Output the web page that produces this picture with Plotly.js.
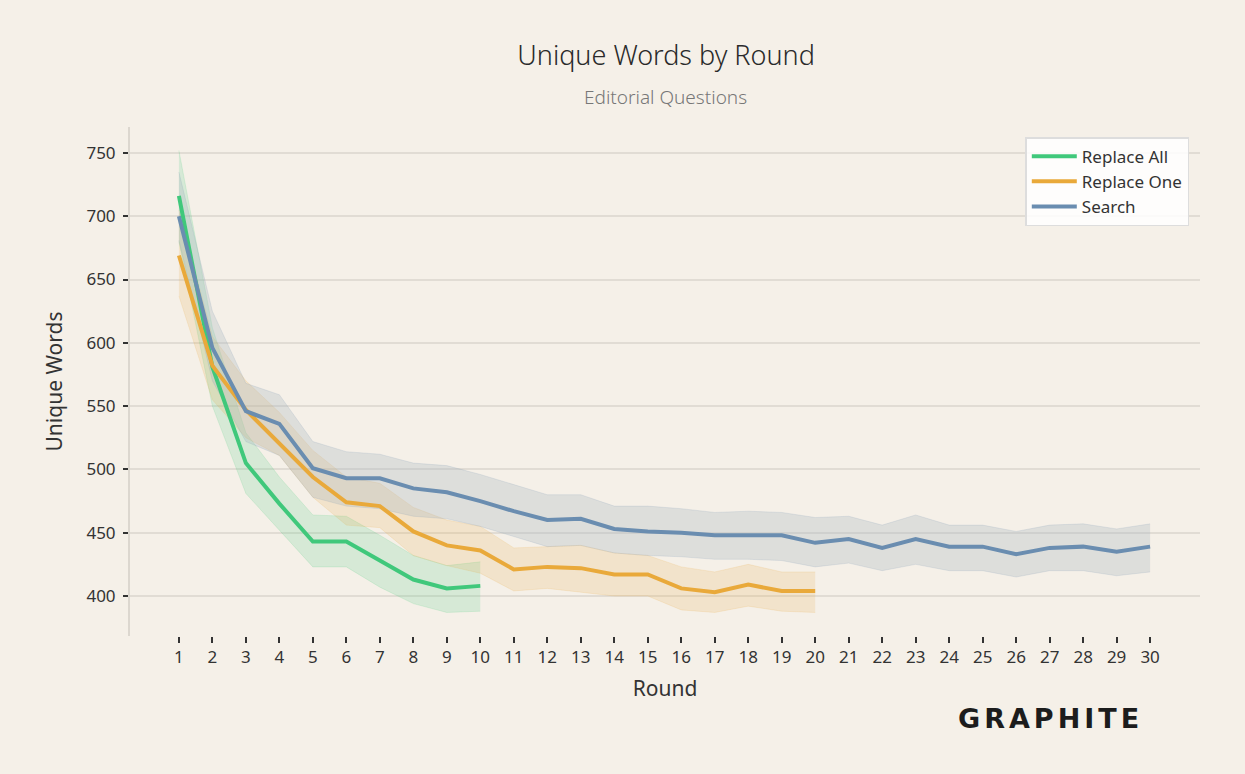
<!DOCTYPE html>
<html>
<head>
<meta charset="utf-8">
<script src="https://cdn.plot.ly/plotly-3.0.1.min.js"></script>
<style>
  body { margin: 0; background: #f5f0e8; }
  #wrap { position: relative; width: 1245px; height: 774px; }
  #graph { width: 1245px; height: 774px; }
  #brand {
    position: absolute; left: 958px; top: 703px;
    font-family: "DejaVu Sans", sans-serif; font-weight: bold;
    font-size: 27px; letter-spacing: 4px; color: #1c1c1c;
  }
</style>
</head>
<body>
<div id="wrap">
  <div id="graph"></div>
  <div id="brand">GRAPHITE</div>
</div>
<script>
// rounds
let rounds_all = [1, 2, 3, 4, 5, 6, 7, 8, 9, 10];
let rounds_one = [1, 2, 3, 4, 5, 6, 7, 8, 9, 10, 11, 12, 13, 14, 15, 16, 17, 18, 19, 20];
let rounds_search = [1, 2, 3, 4, 5, 6, 7, 8, 9, 10, 11, 12, 13, 14, 15, 16, 17, 18, 19, 20,
                     21, 22, 23, 24, 25, 26, 27, 28, 29, 30];

// Replace All
let all_mean  = [716, 581, 505, 473, 443, 443, 428, 413, 406, 408];
let all_upper = [752, 612, 529, 494, 464, 463, 448, 432, 424, 427];
let all_lower = [680, 550, 481, 452, 423, 423, 407, 394, 387, 388];

// Replace One
let one_mean  = [669, 582, 547, 521, 494, 474, 471, 451, 440, 436,
                 421, 423, 422, 417, 417, 406, 403, 409, 404, 404];
let one_upper = [705, 605, 570, 545, 515, 494, 489, 470, 460, 455,
                 438, 439, 440, 434, 432, 423, 419, 425, 419, 419];
let one_lower = [637, 555, 525, 511, 478, 456, 454, 432, 424, 418,
                 404, 406, 403, 400, 400, 389, 387, 392, 388, 387];

// Search
let search_mean  = [700, 596, 546, 536, 501, 493, 493, 485, 482, 475,
                    467, 460, 461, 453, 451, 450, 448, 448, 448, 442,
                    445, 438, 445, 439, 439, 433, 438, 439, 435, 439];
let search_upper = [735, 625, 568, 559, 522, 514, 512, 505, 503, 496,
                    488, 480, 480, 471, 471, 469, 466, 467, 466, 462,
                    463, 456, 464, 456, 456, 451, 456, 457, 453, 457];
let search_lower = [681, 570, 522, 511, 478, 471, 469, 463, 461, 455,
                    447, 439, 440, 434, 432, 431, 429, 429, 428, 423,
                    426, 420, 425, 420, 420, 415, 420, 420, 416, 419];

let x_ticks = rounds_search;

function band(x, upper, lower, fill, edge)
{
    return [
        {x: x, y: upper, type: 'scatter', mode: 'lines', showlegend: false, hoverinfo: 'skip',
         line: {color: edge, width: 1}},
        {x: x, y: lower, type: 'scatter', mode: 'lines', showlegend: false, hoverinfo: 'skip',
         fill: 'tonexty', fillcolor: fill, line: {color: edge, width: 1}}
    ];
}

function mean_line(x, y, name, color)
{
    return {x: x, y: y, type: 'scatter', mode: 'lines', name: name, legendgroup: name,
            line: {color: color, width: 4}};
}

let green = '#40c87b';
let orange = '#e9a93a';
let blue = '#6a8db0';

let traces = [].concat(
    band(rounds_all, all_upper, all_lower, 'rgba(64,200,123,0.17)', 'rgba(64,200,123,0.15)'),
    band(rounds_one, one_upper, one_lower, 'rgba(233,169,58,0.17)', 'rgba(233,169,58,0.15)'),
    band(rounds_search, search_upper, search_lower, 'rgba(170,182,192,0.32)', 'rgba(106,141,176,0.15)'),
    [mean_line(rounds_all, all_mean, 'Replace All', green),
     mean_line(rounds_one, one_mean, 'Replace One', orange),
     mean_line(rounds_search, search_mean, 'Search', blue)]
);

let font = "Noto Sans, sans-serif";

let layout = {
    width: 1245,
    height: 774,
    paper_bgcolor: '#f5f0e8',
    plot_bgcolor: '#f5f0e8',
    font: {family: font, color: '#333', size: 15},
    margin: {l: 130, r: 45, t: 127, b: 138},
    title: {text: 'Unique Words by Round', font: {family: font, size: 27, color: '#2a2a2a', weight: 300},
            x: 0.535, xanchor: 'center', y: 0.928, yanchor: 'middle', yref: 'container'},
    annotations: [
        {text: 'Editorial Questions', xref: 'paper', yref: 'paper', x: 0.5, y: 1.059,
         yanchor: 'middle', showarrow: false,
         font: {family: font, size: 19, color: '#777', weight: 300}}
    ],
    xaxis: {
        range: [-0.46, 31.49],
        tickvals: x_ticks,
        ticks: 'outside', ticklen: 6, tickwidth: 2, tickcolor: '#333',
        showgrid: false, zeroline: false, showline: false,
        tickfont: {size: 17, color: '#333'},
        title: {text: 'Round', font: {size: 21, color: '#333'}, standoff: 13}
    },
    yaxis: {
        range: [368.4, 770.5],
        tickvals: [400, 450, 500, 550, 600, 650, 700, 750],
        ticks: 'outside', ticklen: 5, tickwidth: 2, tickcolor: '#333',
        ticklabelstandoff: 4,
        showgrid: true, gridcolor: '#e1dcd4', gridwidth: 1.5,
        zeroline: false, showline: true, linecolor: '#dcd7cf', linewidth: 2,
        tickfont: {size: 17, color: '#333'},
        title: {text: 'Unique Words', font: {size: 21, color: '#333'}, standoff: 18}
    },
    legend: {
        x: 0.99, xanchor: 'right', y: 0.98, yanchor: 'top',
        traceorder: 'normal', tracegroupgap: 16, itemwidth: 45,
        bgcolor: 'rgba(255,255,255,0.85)', bordercolor: '#dddddd', borderwidth: 1.5,
        font: {size: 17, color: '#333'}
    }
};

Plotly.newPlot('graph', traces, layout, {displayModeBar: false});
</script>
</body>
</html>
